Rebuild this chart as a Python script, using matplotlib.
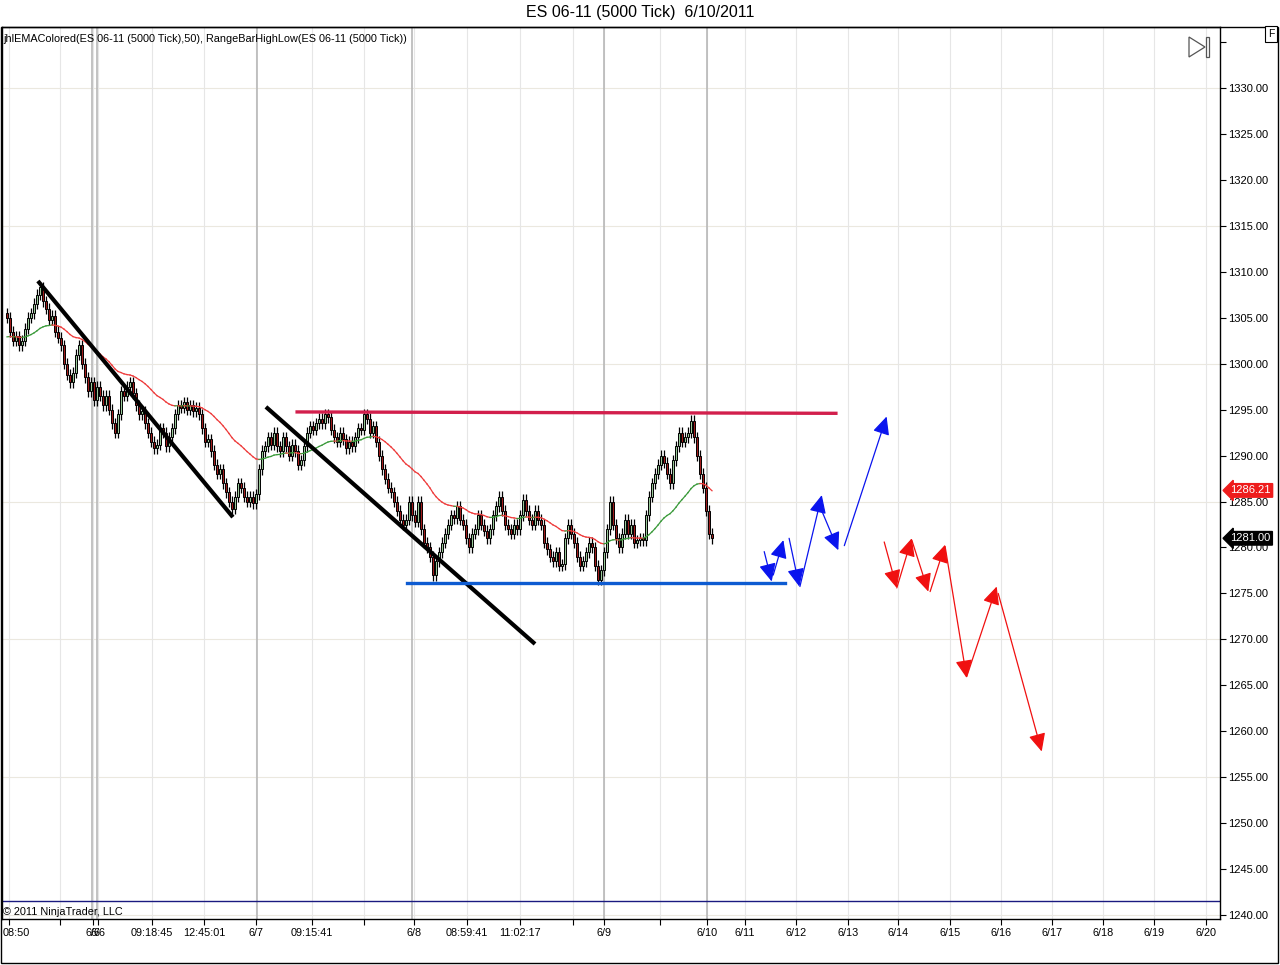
import numpy as np
import matplotlib
matplotlib.use("Agg")
import matplotlib.pyplot as plt
import matplotlib.transforms as mtransforms
from matplotlib.patches import Rectangle, Polygon

plt.rcParams['font.family'] = ['Liberation Sans', 'DejaVu Sans']

# ---- data ----
closes = [
    1305.0, 1303.5, 1302.5, 1303.0, 1302.0, 1302.5, 1303.8, 1305.0, 1305.5, 1306.5,
    1307.5, 1308.3, 1306.8, 1306.0, 1304.8, 1305.2, 1303.5, 1302.8, 1302.0, 1300.0,
    1298.8, 1298.0, 1299.0, 1301.0, 1302.0, 1300.0, 1298.5, 1297.0, 1298.0, 1296.0,
    1297.5, 1296.5, 1295.5, 1296.5, 1295.0, 1293.5, 1292.5, 1294.5, 1297.0, 1296.5,
    1297.5, 1298.0, 1296.8, 1295.5, 1294.5, 1294.8, 1293.5, 1292.5, 1291.5, 1290.8,
    1291.2, 1293.0, 1292.5, 1291.0, 1292.0, 1293.0, 1294.5, 1295.5, 1295.2, 1295.8,
    1295.0, 1295.5, 1294.8, 1295.2, 1294.5, 1293.0, 1291.5, 1291.8, 1290.5, 1289.0,
    1288.0, 1288.5, 1287.0, 1286.0, 1285.0, 1284.2, 1285.5, 1287.0, 1286.5, 1285.5,
    1285.0, 1285.5, 1284.8, 1285.8, 1288.5, 1290.5, 1291.0, 1292.0, 1291.2, 1292.5,
    1291.0, 1290.5, 1292.0, 1291.0, 1290.0, 1291.2, 1290.5, 1289.0, 1289.5, 1291.0,
    1292.5, 1293.2, 1292.8, 1293.5, 1294.0, 1293.5, 1294.5, 1294.2, 1292.8, 1292.0,
    1291.5, 1292.5, 1291.8, 1290.8, 1291.5, 1291.0, 1292.0, 1293.0, 1292.8, 1294.5,
    1294.0, 1292.5, 1293.2, 1291.5, 1290.0, 1288.5, 1287.5, 1286.5, 1286.0, 1285.0,
    1284.0, 1283.0, 1282.5, 1283.0, 1285.0, 1283.5, 1282.8, 1285.0, 1282.0, 1280.5,
    1280.0, 1279.0, 1277.0, 1278.5, 1279.5, 1280.5, 1281.5, 1282.5, 1283.5, 1283.2,
    1284.5, 1283.0, 1282.5, 1281.0, 1280.0, 1281.5, 1282.0, 1283.5, 1282.5, 1281.8,
    1281.0, 1282.0, 1283.5, 1284.5, 1285.5, 1284.0, 1282.5, 1282.0, 1281.5, 1282.5,
    1282.0, 1283.5, 1285.2, 1284.0, 1283.0, 1282.5, 1284.0, 1283.0, 1282.5, 1280.5,
    1279.8, 1279.0, 1278.5, 1279.5, 1278.0, 1278.2, 1281.0, 1282.5, 1281.5, 1280.5,
    1279.0, 1278.0, 1278.5, 1279.5, 1280.5, 1280.0, 1278.0, 1276.5, 1277.5, 1279.5,
    1282.0, 1285.0, 1282.5, 1281.0, 1280.0, 1281.5, 1283.0, 1281.5, 1282.5, 1280.5,
    1280.8, 1281.0, 1280.8, 1283.5, 1285.5, 1287.0, 1288.0, 1289.0, 1290.0, 1289.2,
    1288.0, 1287.0, 1289.5, 1291.0, 1292.5, 1291.5, 1292.0, 1292.5, 1293.8, 1292.0,
    1290.0, 1288.0, 1286.5, 1284.0, 1281.5, 1281.0,
]
first_open = 1305.5
ema_seed = 1302.8
ema_span = 35
ema_tag = 1286.21
last_tag = 1281.00
wick = 0.6
hl_low_line = 1241.5

# x axis ticks (bar index) and labels
tick_pos = [0.7, 17.7, 28.7, 30.3, 48.3, 65.7, 83.0, 101.7, 119.0, 135.7, 153.3,
            171.0, 188.7, 199.0, 217.7, 233.3, 246.0, 263.0, 280.3, 297.0, 314.3,
            331.3, 348.3, 365.3, 382.3, 399.7]
tick_lab = ["08:50", "", "6/6", "6/6", "09:18:45", "12:45:01", "6/7", "09:15:41", "",
            "6/8", "08:59:41", "11:02:17", "", "6/9", "", "6/10", "6/11", "6/12",
            "6/13", "6/14", "6/15", "6/16", "6/17", "6/18", "6/19", "6/20"]
day_lines = [28.3, 30.0, 83.3, 135.0, 199.0, 233.3]

# drawn objects: (bar0, price0, bar1, price1)
black_lines = [(10.3, 1309.0, 75.3, 1283.3), (86.3, 1295.3, 176.0, 1269.5)]
resistance = (96.7, 1294.75, 276.3, 1294.6)
support = (133.3, 1276.1, 259.3, 1276.1)
blue_arrows = [
    (252.4, 1279.55, 254.9, 1276.3),
    (255.4, 1277.0, 258.8, 1280.8),
    (260.7, 1281.0, 264.1, 1275.75),
    (264.3, 1275.75, 271.6, 1285.7),
    (271.0, 1284.45, 277.1, 1279.7),
    (279.1, 1280.2, 293.2, 1294.25),
]
red_arrows = [
    (292.4, 1280.6, 296.6, 1275.6),
    (296.6, 1275.6, 301.6, 1281.0),
    (301.6, 1280.8, 307.1, 1275.2),
    (307.7, 1275.2, 312.7, 1280.3),
    (312.7, 1280.1, 319.9, 1265.8),
    (319.9, 1265.95, 329.9, 1275.75),
    (330.4, 1275.0, 344.9, 1257.8),
]

# ---- derived ----
c = np.array(closes)
o = np.concatenate([[first_open], c[:-1]])
h = np.maximum(o, c) + wick
l = np.minimum(o, c) - wick
x = np.arange(len(c))

ema = []
prev = ema_seed
alpha = 2.0 / (ema_span + 1)
for v in c:
    prev = prev + alpha * (v - prev)
    ema.append(prev)
ema = np.array(ema)

# ---- figure ----
fig = plt.figure(figsize=(12.8, 9.65), dpi=100)
ax = fig.add_axes([2 / 1280, 1 - 919 / 965, 1218 / 1280, 892 / 965])
ax.set_xlim(-1.67, 404.33)
ax.set_ylim(1239.57, 1336.64)

# grid
for yv in np.arange(1240, 1331, 15):
    ax.axhline(yv, color='#ebe8df', lw=0.8, zorder=0)
for xv in tick_pos:
    ax.axvline(xv, color='#e6e6e6', lw=0.8, zorder=0)
for xv in day_lines:
    ax.axvline(xv, color='#b8b8b8', lw=1.2, zorder=0.5)

ax.axhline(hl_low_line, color='#1a1a80', lw=1.0, zorder=1)

# candles
up = c >= o
ax.vlines(x, l, h, color='black', lw=0.9, zorder=2)
body_h = np.maximum(np.abs(c - o), 0.12)
ax.bar(x[up], body_h[up], bottom=np.minimum(o, c)[up], width=0.78,
       color='#98c898', edgecolor='black', linewidth=0.7, zorder=3)
ax.bar(x[~up], body_h[~up], bottom=np.minimum(o, c)[~up], width=0.78,
       color='#a01c1c', edgecolor='black', linewidth=0.7, zorder=3)

# EMA coloured by slope
for i in range(1, len(ema)):
    col = '#3a9a3a' if ema[i] >= ema[i - 1] else '#ee3b3b'
    ax.plot(x[i - 1:i + 1], ema[i - 1:i + 1], color=col, lw=0.9, zorder=4)

# drawn lines
for x0, p0, x1, p1 in black_lines:
    ax.plot([x0, x1], [p0, p1], color='black', lw=3.0, solid_capstyle='butt', zorder=5)
ax.plot(resistance[::2], resistance[1::2], color='#d21f4c', lw=2.4, zorder=5)
ax.plot(support[::2], support[1::2], color='#0d5bd1', lw=2.4, zorder=5)

for arrows, col in ((blue_arrows, '#0a14ee'), (red_arrows, '#f01010')):
    for x0, p0, x1, p1 in arrows:
        ax.annotate('', xy=(x1, p1), xytext=(x0, p0),
                    arrowprops=dict(arrowstyle='-|>,head_length=0.55,head_width=0.26',
                                    color=col, lw=0.9, shrinkA=0, shrinkB=0,
                                    mutation_scale=20), zorder=6)

# axes styling
for s in ax.spines.values():
    s.set_color('black')
    s.set_linewidth(1.0)
ax.yaxis.tick_right()
yt = np.arange(1240, 1336, 5)
ax.set_yticks(yt)
ax.set_yticklabels([f"{v:.2f}" if v <= 1330 else "" for v in yt])
ax.set_xticks(tick_pos)
ax.set_xticklabels(tick_lab)
ax.tick_params(axis='y', direction='out', length=4.5, width=0.8, pad=1.5,
               labelsize=8, colors='black')
ax.tick_params(axis='x', direction='out', length=4.5, width=0.8, pad=2,
               labelsize=7.8, colors='black')
first = ax.get_xticklabels()[0]
first.set_ha('left')
first.set_transform(first.get_transform() +
                    mtransforms.ScaledTranslation(-6 / 100, 0, fig.dpi_scale_trans))

# price tags on the axis
blend = mtransforms.blended_transform_factory(ax.transAxes, ax.transData)
ax.text(1.0085, ema_tag, f"{ema_tag:.2f}", transform=blend, ha='left', va='center',
        fontsize=8, color='white', zorder=10, clip_on=False,
        bbox=dict(boxstyle='larrow,pad=0.16', fc='#ee1c1c', ec='#ee1c1c'))
ax.text(1.0085, last_tag, f"{last_tag:.2f}", transform=blend, ha='left', va='center',
        fontsize=8, color='white', zorder=10, clip_on=False,
        bbox=dict(boxstyle='larrow,pad=0.16', fc='black', ec='black'))

# texts
ax.text(0.001, 1 - 12 / 892, "jhlEMAColored(ES 06-11 (5000 Tick),50), RangeBarHighLow(ES 06-11 (5000 Tick))",
        transform=ax.transAxes, ha='left', va='center', fontsize=7.8)
ax.text(0.001, 7 / 892, "\u00a9 2011 NinjaTrader, LLC", transform=ax.transAxes,
        ha='left', va='center', fontsize=7.8)
fig.text(0.5, 1 - 13 / 965, "ES 06-11 (5000 Tick)  6/10/2011", ha='center', va='center',
         fontsize=11.5)

# scroll-to-end icon and F box
def fp(px, py):
    return (px / 1280, 1 - py / 965)

fig.patches.append(Polygon([fp(1189, 37), fp(1189, 57), fp(1205, 47)], closed=True,
                           fill=False, ec='#555555', lw=0.9, transform=fig.transFigure))
fig.patches.append(Rectangle(fp(1206, 57), 3 / 1280, 20 / 965, fill=False, ec='#555555',
                             lw=0.9, transform=fig.transFigure))
fig.text(1271 / 1280, 1 - 34 / 965, "F", ha='center', va='center', fontsize=7.5,
         bbox=dict(boxstyle='square,pad=0.3', fc='white', ec='black', lw=0.8))

# outer border
fig.patches.append(Rectangle(fp(1, 963), 1277 / 1280, 936 / 965, fill=False,
                             ec='black', lw=1.0, transform=fig.transFigure))

fig.savefig("out.png", dpi=100)
